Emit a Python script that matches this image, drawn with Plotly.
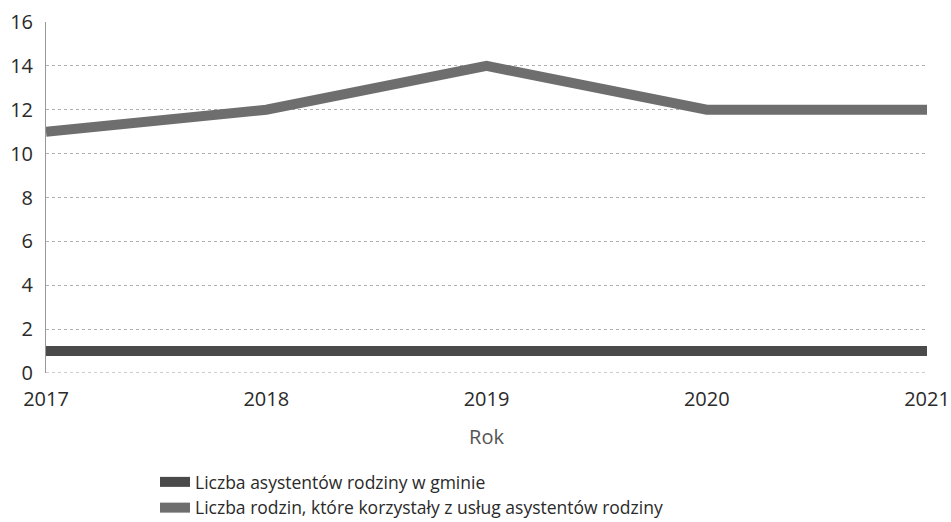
import plotly.graph_objects as go

years = [2017, 2018, 2019, 2020, 2021]
asystenci = [1, 1, 1, 1, 1]
rodziny = [11, 12, 14, 12, 12]

series_names = [
    "Liczba asystentów rodziny w gminie",
    "Liczba rodzin, które korzystały z usług asystentów rodziny",
]

fig = go.Figure()
fig.add_trace(go.Scatter(x=years, y=asystenci, mode="lines", name=series_names[0],
                         line=dict(color="#4a4a4a", width=10)))
fig.add_trace(go.Scatter(x=years, y=rodziny, mode="lines", name=series_names[1],
                         line=dict(color="#6e6e6e", width=10)))

font = "Open Sans, Noto Sans, sans-serif"
fig.update_layout(
    width=951, height=522,
    margin=dict(l=46, r=24, t=22, b=149, autoexpand=False),
    paper_bgcolor="white", plot_bgcolor="white",
    font=dict(family=font, size=20, color="#2a2a2a"),
    showlegend=True,
    legend=dict(x=0.163, y=1 - 464 / 522, xref="container", yref="container",
                xanchor="left", yanchor="top",
                orientation="v", font=dict(size=17.5, color="#2a2a2a"),
                itemwidth=30, tracegroupgap=0),
    xaxis=dict(range=[2017, 2021], tickvals=years, ticktext=[str(y) for y in years],
               showgrid=False, zeroline=False, showline=False,
               ticks="", tickfont=dict(size=20, color="#2a2a2a"), ticklabelstandoff=12,
               ticklabeloverflow="allow",
               title=dict(text="Rok", font=dict(size=20, color="#555"), standoff=18)),
    yaxis=dict(range=[0, 16], tickvals=list(range(0, 17, 2)),
               showgrid=True, gridcolor="#b0b0b0", griddash="dot", gridwidth=1,
               zeroline=False, showline=True, linecolor="#999", linewidth=1,
               ticks="", tickfont=dict(size=20, color="#2a2a2a"), ticklabelstandoff=8),
)
fig.add_shape(type="line", xref="paper", yref="y", x0=0, x1=1, y0=0, y1=0,
              line=dict(color="#999", width=1, dash="dot"), layer="below")

fig.write_html("out.html")
